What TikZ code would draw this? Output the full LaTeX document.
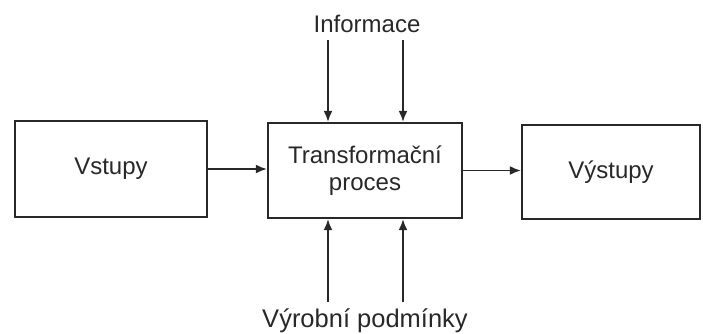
\documentclass[tikz,border=0pt]{standalone}
\usepackage{fontspec}
\setmainfont{Liberation Sans}
\usetikzlibrary{arrows.meta}
\definecolor{tisk}{RGB}{40,40,40}
\begin{document}
\begin{tikzpicture}[x=1pt,y=-1pt,
	blok/.style={draw=tisk,line width=2.4pt,text=tisk,align=center,font=\fontsize{24}{27}\selectfont},
	popis/.style={text=tisk,inner sep=0pt,anchor=base},
	sipka/.style={draw=tisk,line width=1.6pt,-{Latex[length=11pt,width=9pt]}}]
	\useasboundingbox (0,0) rectangle (703,333);
	\node[blok,minimum width=192pt,minimum height=96pt] (vstupy) at (111,169) {Vstupy};
	\node[blok,minimum width=194pt,minimum height=95pt] (proces) at (365,170.5) {Transformační\\proces};
	\node[blok,minimum width=178pt,minimum height=94pt] (vystupy) at (611,172) {Výstupy};
	\node[popis,font=\fontsize{24}{27}\selectfont] (info) at (367,32) {Informace};
	\node[popis,font=\fontsize{25.5}{28}\selectfont] (podm) at (365,327) {Výrobní podmínky};
	\coordinate (i1) at (328,40);
	\coordinate (i2) at (403,40);
	\coordinate (p1) at (328,302);
	\coordinate (p2) at (403,302);
	\draw[sipka] (vstupy.east) -- (vstupy.east -| proces.west);
	\draw[sipka] (proces.east) -- (proces.east -| vystupy.west);
	\draw[sipka] (i1) -- (i1 |- proces.north);
	\draw[sipka] (i2) -- (i2 |- proces.north);
	\draw[sipka] (p1) -- (p1 |- proces.south);
	\draw[sipka] (p2) -- (p2 |- proces.south);
\end{tikzpicture}
\end{document}
